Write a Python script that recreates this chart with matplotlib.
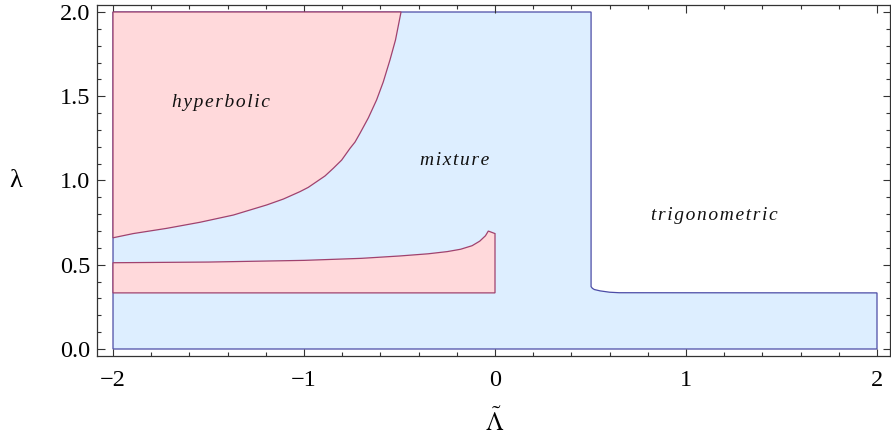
import matplotlib
matplotlib.use("Agg")
import matplotlib.pyplot as plt
from matplotlib.ticker import MultipleLocator, FixedLocator, FixedFormatter

plt.rcParams['mathtext.fontset'] = 'stix'

# ---- data ----
hyper_x = [-2.0, -1.894, -1.719, -1.545, -1.370, -1.195, -1.108, -1.021, -0.978, -0.934,
           -0.890, -0.847, -0.803, -0.759, -0.733, -0.707, -0.663, -0.620, -0.585,
           -0.550, -0.521, -0.492]
hyper_y = [0.660, 0.685, 0.716, 0.752, 0.795, 0.855, 0.890, 0.934, 0.959, 0.993,
           1.027, 1.072, 1.121, 1.191, 1.228, 1.280, 1.372, 1.478, 1.585,
           1.715, 1.834, 2.0]

band_x = [-2.0, -1.5, -1.0, -0.7, -0.5, -0.35, -0.25, -0.18, -0.12, -0.08, -0.05, -0.035, 0.0]
band_top = [0.512, 0.516, 0.526, 0.538, 0.552, 0.565, 0.578, 0.592, 0.613, 0.640, 0.672, 0.700, 0.685]
band_bottom = 0.333

trig_x = [0.503, 0.503, 0.51, 0.52, 0.55, 0.60, 0.65, 2.0]
trig_y = [2.0, 0.37, 0.36, 0.353, 0.345, 0.337, 0.334, 0.333]

x_min, x_max, y_min, y_max = -2.0, 2.0, 0.0, 2.0

xticks = [-2, -1, 0, 1, 2]
xtick_labels = ["\u22122", "\u22121", "0", "1", "2"]
yticks = [0.0, 0.5, 1.0, 1.5, 2.0]
ytick_labels = ["0.0", "0.5", "1.0", "1.5", "2.0"]

region_labels = ["hyperbolic", "mixture", "trigonometric"]
label_pos = [(-1.435, 1.46), (-0.21, 1.12), (1.15, 0.795)]

# ---- styling ----
pink_fill = "#ffd9db"
pink_edge = "#a0426e"
blue_fill = "#ddeeff"
blue_edge = "#4c4ca6"

W, H = 891, 438
fig = plt.figure(figsize=(W / 100, H / 100), dpi=100)
left_px, right_px, top_px, bottom_px = 97, 890, 5, 356
ax = fig.add_axes([left_px / W, (H - bottom_px) / H,
                   (right_px - left_px) / W, (bottom_px - top_px) / H])

# blue (mixture) region
bx = [x_min, x_max] + trig_x[::-1] + [x_min]
by = [y_min, y_min] + trig_y[::-1] + [y_max]
ax.fill(bx, by, facecolor=blue_fill, edgecolor=blue_edge, linewidth=0.9, zorder=1)

# hyperbolic regions
hx = hyper_x + [x_min]
hy = hyper_y + [y_max]
ax.fill(hx, hy, facecolor=pink_fill, edgecolor=pink_edge, linewidth=0.9, zorder=2)

px = [x_min, band_x[-1]] + band_x[::-1]
py = [band_bottom, band_bottom] + band_top[::-1]
ax.fill(px, py, facecolor=pink_fill, edgecolor=pink_edge, linewidth=0.9, zorder=2)

def spaced(s):
    return "\u200a".join(s)

for txt, (lx, ly) in zip(region_labels, label_pos):
    ax.text(lx, ly, spaced(txt), ha="center", va="center", fontsize=14,
            style="italic", family=["Liberation Serif", "DejaVu Serif"], color="#111111",
            zorder=5)

ax.set_xlim(-2.0838, (right_px - 495) / 191)
ax.set_ylim(-7 / 168.5, 2 + 7 / 168.5)

ax.xaxis.set_major_locator(FixedLocator(xticks))
ax.xaxis.set_major_formatter(FixedFormatter(xtick_labels))
ax.xaxis.set_minor_locator(MultipleLocator(0.2))
ax.yaxis.set_major_locator(FixedLocator(yticks))
ax.yaxis.set_major_formatter(FixedFormatter(ytick_labels))
ax.yaxis.set_minor_locator(MultipleLocator(0.1))

ax.tick_params(which="both", direction="in", top=True, right=True, color="#333333",
               width=0.8)
ax.tick_params(which="major", length=5.4)
ax.tick_params(which="minor", length=3.2)
ax.tick_params(axis="x", which="major", pad=10)
ax.tick_params(axis="y", which="major", pad=5)
for lab in ax.get_xticklabels() + ax.get_yticklabels():
    lab.set_fontfamily("Liberation Serif")
    lab.set_fontsize(17.5)
for sp in ax.spines.values():
    sp.set_color("#333333")
    sp.set_linewidth(0.9)

fig.text(16 / W, (H - 181) / H, "\u03bb", ha="center", va="center",
         fontsize=19, family=["Liberation Serif", "DejaVu Serif"])
fig.text(495 / W, (H - 422) / H, r"$\tilde{\Lambda}$", ha="center", va="center",
         fontsize=18)

fig.savefig("out.png", dpi=100)
